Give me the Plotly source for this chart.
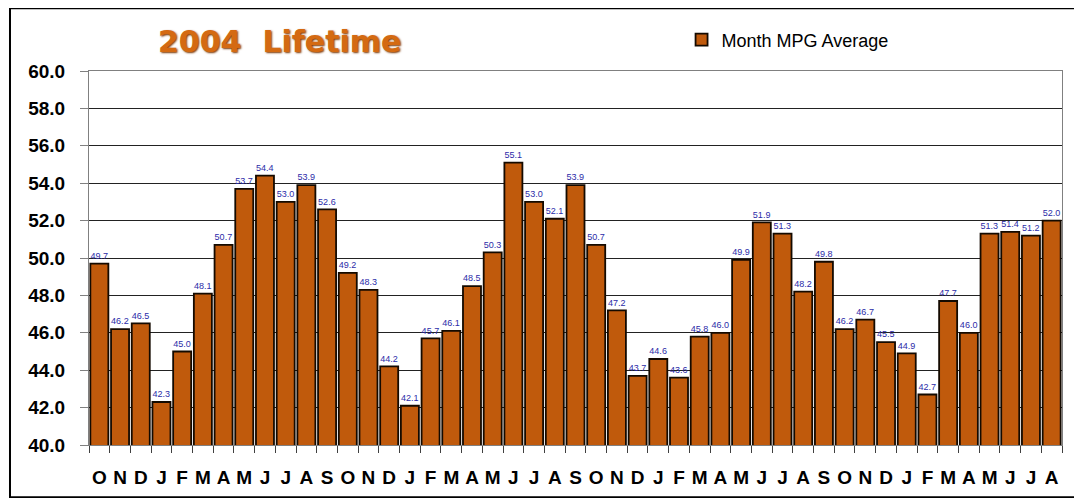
import plotly.graph_objects as go

months = ["O","N","D","J","F","M","A","M","J","J","A","S",
          "O","N","D","J","F","M","A","M","J","J","A","S",
          "O","N","D","J","F","M","A","M","J","J","A","S",
          "O","N","D","J","F","M","A","M","J","J","A"]
mpg = [49.7,46.2,46.5,42.3,45.0,48.1,50.7,53.7,54.4,53.0,53.9,52.6,
       49.2,48.3,44.2,42.1,45.7,46.1,48.5,50.3,55.1,53.0,52.1,53.9,
       50.7,47.2,43.7,44.6,43.6,45.8,46.0,49.9,51.9,51.3,48.2,49.8,
       46.2,46.7,45.5,44.9,42.7,47.7,46.0,51.3,51.4,51.2,52.0]
series_name = "Month MPG Average"
title_text = "2004  Lifetime"
y_ticks = [40.0 + 2.0 * i for i in range(11)]

x = list(range(len(mpg)))

fig = go.Figure()
fig.add_trace(go.Bar(
    x=x, y=mpg, name=series_name,
    marker=dict(color="#C05A0C", line=dict(color="#140a00", width=1.8)),
    text=[f"{v:.1f}" for v in mpg], textposition="outside",
    textfont=dict(size=10, color="#2b2ba8", family="Liberation Sans"),
    cliponaxis=False, width=0.87, showlegend=True,
))

fig.update_layout(
    width=1082, height=498,
    margin=dict(l=81, r=28, t=63, b=61),
    paper_bgcolor="white", plot_bgcolor="white",
    font=dict(family="Liberation Sans, Arial", color="black"),
    showlegend=True,
    legend=dict(x=0.609, y=1.083, xanchor="left", yanchor="middle",
                font=dict(size=18, color="black"), bgcolor="rgba(0,0,0,0)",
                itemwidth=30),
    xaxis=dict(
        range=[-0.5, len(mpg) - 0.5],
        tickvals=x, ticktext=months, ticks="", showgrid=False,
        tickfont=dict(size=19, color="black", family="Liberation Sans", weight="bold"),
        showline=True, linecolor="#808080", linewidth=1, mirror=True,
        minor=dict(tick0=-0.5, dtick=1, ticks="outside", ticklen=7,
                   tickcolor="#404040", showgrid=False),
        ticklabelstandoff=15,
    ),
    yaxis=dict(
        range=[40, 60], tickvals=y_ticks, ticktext=[f"{v:.1f}" for v in y_ticks],
        ticks="outside", ticklen=8, tickcolor="#808080",
        tickfont=dict(size=19, color="black", family="Liberation Sans", weight="bold"),
        showgrid=True, gridcolor="#222222", gridwidth=1,
        showline=True, linecolor="#808080", linewidth=1, mirror=True,
        zeroline=False, ticklabelstandoff=11,
    ),
)

fig.add_annotation(
    text=title_text, xref="paper", yref="paper", x=0.196, y=1.078,
    xanchor="center", yanchor="middle", showarrow=False,
    font=dict(size=30, color="#D46A12", family="DejaVu Sans", weight="bold",
              shadow="1px 1px 2px #7a3500"),
)

fig.add_shape(type="rect", xref="paper", yref="paper",
              x0=-0.0812, x1=1.0164, y0=-0.14, y1=1.168,
              line=dict(color="black", width=2), fillcolor="rgba(0,0,0,0)", layer="below")

fig.write_html("out.html")
